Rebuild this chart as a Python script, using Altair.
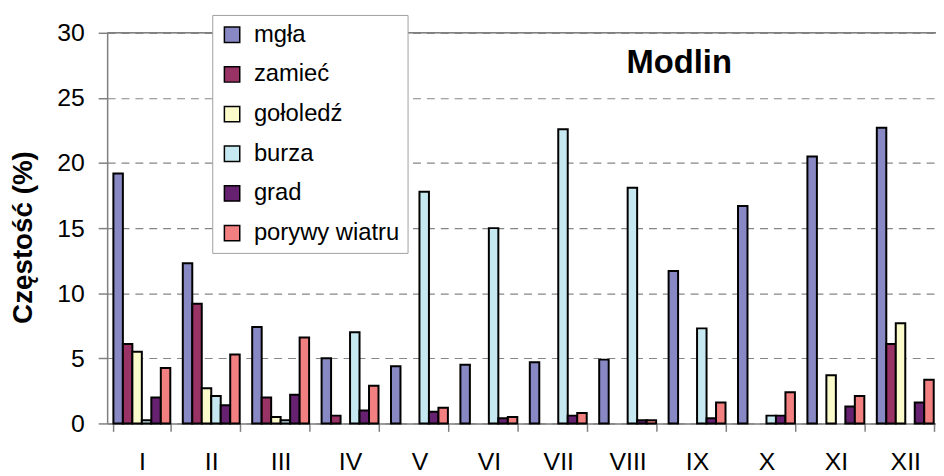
import altair as alt
import pandas as pd

months = ["I", "II", "III", "IV", "V", "VI", "VII", "VIII", "IX", "X", "XI", "XII"]
series = ["mgła", "zamieć", "gołoledź", "burza", "grad", "porywy wiatru"]
colors = ["#8888C4", "#993366", "#FAFACA", "#C6E8F0", "#662270", "#F28080"]

mgla = [19.2, 12.3, 7.4, 5.0, 4.4, 4.5, 4.7, 4.9, 11.7, 16.7, 20.5, 22.7]
zamiec = [6.1, 9.2, 2.0, 0.6, 0, 0, 0, 0, 0, 0, 0, 6.1]
gololedz = [5.5, 2.7, 0.5, 0, 0, 0, 0, 0, 0, 0, 3.7, 7.7]
burza = [0.25, 2.1, 0.25, 7.0, 17.8, 15.0, 22.6, 18.1, 7.3, 0.6, 0, 0]
grad = [2.0, 1.4, 2.2, 1.0, 0.9, 0.4, 0.6, 0.25, 0.4, 0.6, 1.3, 1.6]
porywy = [4.25, 5.3, 6.6, 2.9, 1.2, 0.5, 0.8, 0.25, 1.6, 2.4, 2.1, 3.35]

y_ticks = [0, 5, 10, 15, 20, 25, 30]
title_text = ["Modlin"]

rows = []
for s, vals in zip(series, [mgla, zamiec, gololedz, burza, grad, porywy]):
    for m, v in zip(months, vals):
        if v > 0:
            rows.append({"miesiac": m, "zjawisko": s, "wartosc": v})
df = pd.DataFrame(rows)

FONT = "Liberation Sans"
GRAY = "#808080"

bars = alt.Chart(df).mark_bar(stroke="black", strokeWidth=2).encode(
    x=alt.X(
        "miesiac:N",
        sort=months,
        scale=alt.Scale(domain=months, range=[0, 840], paddingInner=0.18, paddingOuter=0.09),
        axis=alt.Axis(
            title=None, labelAngle=0, labelFontSize=25, labelFont=FONT, labelColor="black",
            labelBaseline="alphabetic", labelPadding=38,
            tickBand="extent", tickSize=8, tickColor=GRAY, tickWidth=1.5,
            domainColor=GRAY, domainWidth=1.5, grid=False,
        ),
    ),
    xOffset=alt.XOffset("zjawisko:N", scale=alt.Scale(domain=series, paddingInner=0, paddingOuter=0)),
    y=alt.Y(
        "wartosc:Q",
        scale=alt.Scale(domain=[0, 30], nice=False),
        axis=alt.Axis(
            values=y_ticks, title="Częstość (%)", titleFont=FONT, titleFontSize=28,
            titleFontWeight="bold", titleColor="black", titleX=-84, titleY=206,
            titleAlign="center", titleBaseline="middle",
            labelFontSize=25, labelFont=FONT, labelColor="black", labelPadding=14,
            tickSize=9, tickColor=GRAY, tickWidth=1.5, domainColor=GRAY, domainWidth=1.5,
            grid=True, gridColor="#868686", gridDash=[8, 6], gridWidth=1.2,
        ),
    ),
    color=alt.Color(
        "zjawisko:N",
        sort=series,
        scale=alt.Scale(domain=series, range=colors),
        legend=alt.Legend(
            title=None, orient="none", legendX=106, legendY=-18,
            fillColor="white", strokeColor="#A0A0A0", padding=8,
            symbolType="square", symbolSize=240, symbolStrokeColor="black",
            symbolStrokeWidth=1.5, symbolOpacity=1,
            labelFontSize=24, labelFont=FONT, labelColor="black",
            rowPadding=16, labelOffset=10, zindex=1,
        ),
    ),
)

top_line = alt.Chart(pd.DataFrame({"y": [30]})).mark_rule(color=GRAY, strokeWidth=1.5).encode(
    y="y:Q"
)

title = alt.Chart(pd.DataFrame({"t": title_text})).mark_text(
    font=FONT, fontSize=33, fontWeight="bold", color="black", align="center", baseline="alphabetic"
).encode(text="t:N", x=alt.value(577), y=alt.value(41))

chart = alt.layer(top_line, bars, title).properties(
    width=836, height=394,
    autosize=alt.AutoSizeParams(type="none"),
    padding={"left": 100, "top": 23, "right": 0, "bottom": 51},
).configure_view(stroke=None).configure(background="white")

chart.save("out.html", embed_options={"renderer": "svg", "actions": False})
